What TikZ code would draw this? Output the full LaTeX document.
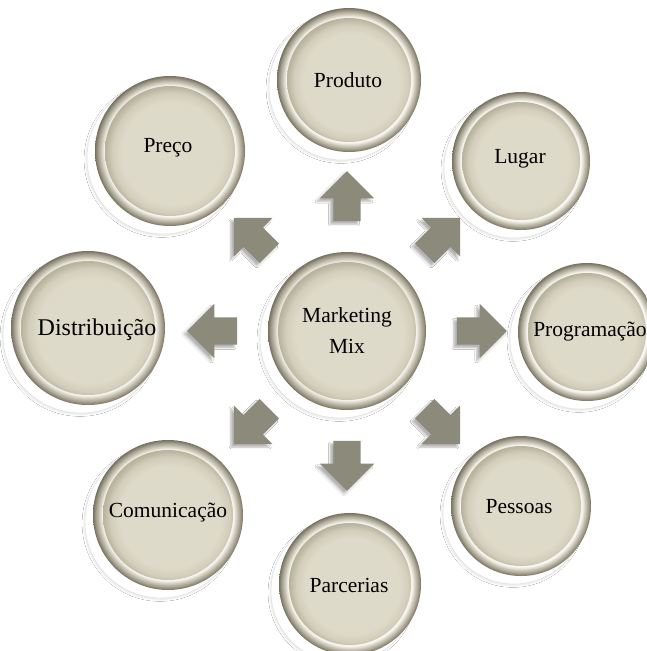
\documentclass[tikz,border=0pt]{standalone}
\usepackage{fontspec}
\setmainfont{Liberation Serif}
\usetikzlibrary{shapes.arrows,shadows.blur}
\definecolor{beige}{HTML}{DEDAC9}
\definecolor{beigemd}{HTML}{D3CEBB}
\definecolor{beigedk}{HTML}{B9B49E}
\definecolor{ringdk}{HTML}{757160}
\definecolor{ringdd}{HTML}{9C9785}
\definecolor{ringmd}{HTML}{D2CEBF}
\definecolor{ringlt}{HTML}{F7F6F1}
\definecolor{arrowc}{HTML}{8C8A7B}
\pgfdeclareradialshading{innerdisk}{\pgfpoint{1.5bp}{-1.5bp}}{color(0bp)=(beige); color(19.5bp)=(beige); color(23bp)=(beigemd); color(25.5bp)=(beigedk); color(50bp)=(beigedk)}
\pgfdeclareradialshading{bevelring}{\pgfpoint{0bp}{0bp}}{color(0bp)=(ringlt); color(21.8bp)=(ringlt); color(22.8bp)=(ringmd); color(24.2bp)=(ringdd); color(25bp)=(ringdk); color(50bp)=(ringdk)}
\tikzset{
  halo/.style={circle, fill=white, draw=black!12, line width=0.5pt,
    blur shadow={shadow xshift=-1pt, shadow yshift=-1.5pt, shadow blur steps=6, shadow opacity=10}},
  ring/.style={circle, shading=bevelring},
  disk/.style={circle, shading=innerdisk},
  lbl/.style={font=\fontsize{21.5}{31}\selectfont, text=black, align=center, inner sep=0pt},
  blockarrow/.style={single arrow, fill=arrowc, draw=none, inner sep=0pt,
    text height=27pt, text depth=0pt, text width=0pt,
    minimum height=50pt, minimum width=54pt, single arrow head extend=13.5pt,
    blur shadow={shadow xshift=-3pt, shadow yshift=-3pt, shadow blur steps=6, shadow opacity=30}}
}
\newcommand{\mybutton}[3]{%
  \path[halo] (#1-7,#2+7) circle (#3+11);
  \path[ring] (#1,#2) circle (#3+10);
  \path[disk] (#1,#2) circle (#3);
}
\begin{document}
\begin{tikzpicture}[x=1pt,y=-1pt]
\useasboundingbox (0,0) rectangle (646,651);
\fill[white] (0,0) rectangle (646,651);
% buttons
\mybutton{349}{80}{62}
\mybutton{521}{161}{59}
\mybutton{587}{332}{59}
\mybutton{521}{506}{60}
\mybutton{350}{584}{61}
\mybutton{168}{515}{65}
\mybutton{88}{328}{67}
\mybutton{170}{151}{65}
\mybutton{347}{331}{69}
% labels
\node[lbl] (mix) at (347,331) {Marketing\\Mix};
\node[lbl] (produto) at (348,80) {Produto};
\node[lbl] (lugar) at (520,159) {Lugar};
\node[lbl] (programacao) at (590,332) {Programação};
\node[lbl] (pessoas) at (519,507) {Pessoas};
\node[lbl] (parcerias) at (349,585) {Parcerias};
\node[lbl] (comunicacao) at (168,513) {Comunicação};
\node[lbl, font=\fontsize{24}{31}\selectfont] (distribuicao) at (97,330) {Distribuição};
\node[lbl] (preco) at (168,148) {Preço};
% arrows
\node[blockarrow, rotate=90] (aN) at (347,203) {};
\node[blockarrow, rotate=45] (aNE) at (437.5,240.5) {};
\node[blockarrow, rotate=0] (aE) at (475,331) {};
\node[blockarrow, rotate=-45] (aSE) at (437.5,421.5) {};
\node[blockarrow, rotate=-90] (aS) at (347,459) {};
\node[blockarrow, rotate=-135] (aSW) at (256.5,421.5) {};
\node[blockarrow, rotate=180] (aW) at (219,331) {};
\node[blockarrow, rotate=135] (aNW) at (256.5,240.5) {};
\end{tikzpicture}
\end{document}
